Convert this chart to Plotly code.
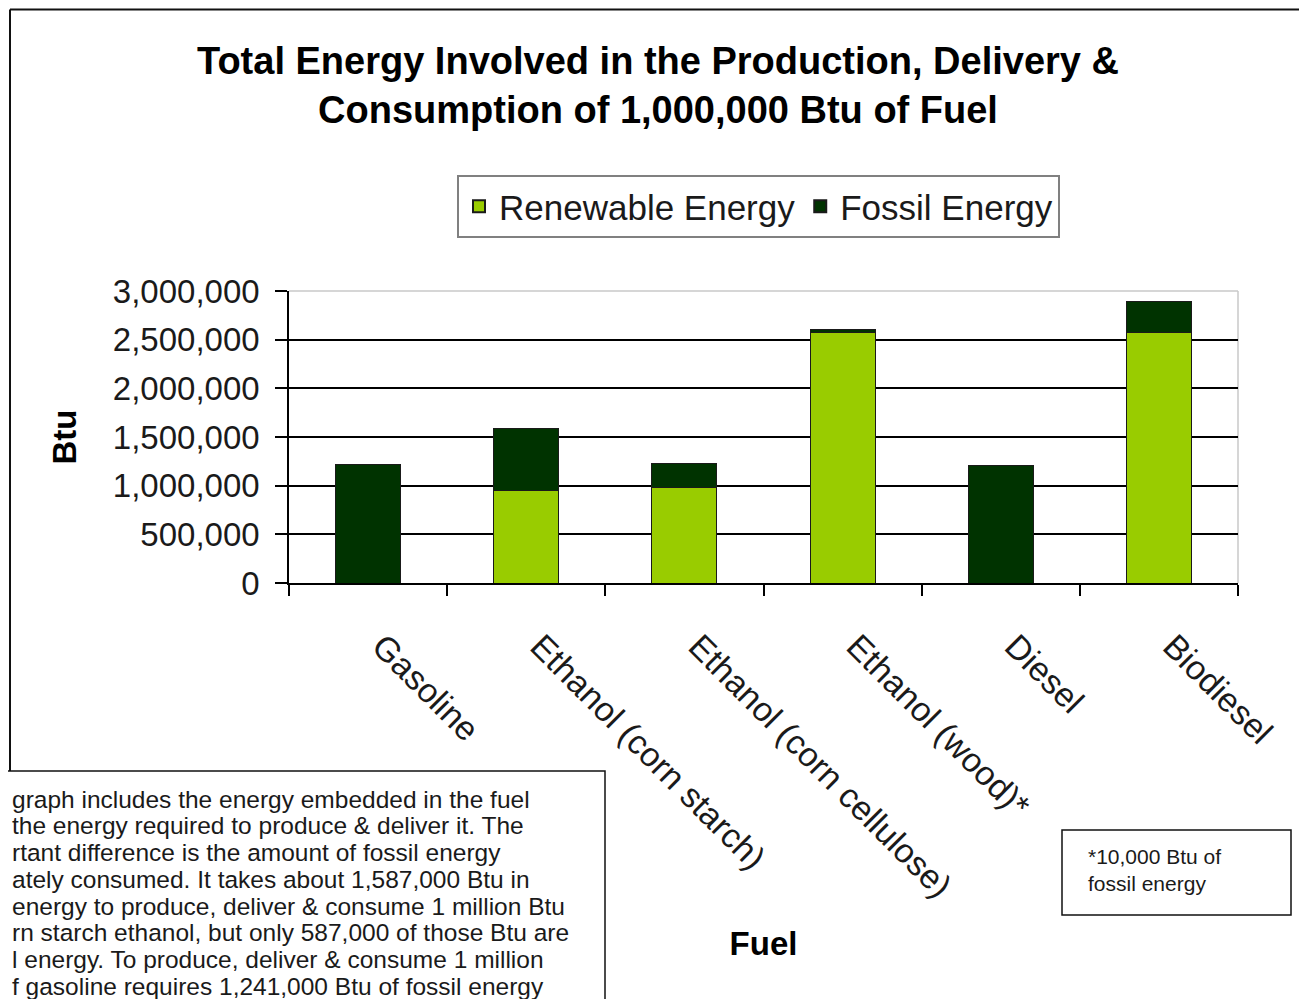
import plotly.graph_objects as go

# ---- data ----
fuels = ["Gasoline", "Ethanol (corn starch)", "Ethanol (corn cellulose)",
         "Ethanol (wood)*", "Diesel", "Biodiesel"]
renewable = [0, 955000, 985000, 2575000, 0, 2570000]
fossil = [1215000, 632000, 240000, 25000, 1207000, 325000]
y_ticks = [0, 500000, 1000000, 1500000, 2000000, 2500000, 3000000]

title_text = ("<b>Total Energy Involved in the Production, Delivery &amp;</b><br>"
              "<b>Consumption of 1,000,000 Btu of Fuel</b>")
note_lines = [
    "graph includes the energy embedded in the fuel",
    "the energy required to produce &amp; deliver it. The",
    "rtant difference is the amount of fossil energy",
    "ately consumed. It takes about 1,587,000 Btu in",
    "energy to produce, deliver &amp; consume 1 million Btu",
    "rn starch ethanol, but only 587,000 of those Btu are",
    "l energy. To produce, deliver &amp; consume 1 million",
    "f gasoline requires 1,241,000 Btu of fossil energy",
]
footnote = "*10,000 Btu of<br>fossil energy"

OFF = 8  # page body margin
W, H = 1307 - OFF, 999 - OFF
L, R, T, B = 289, 1238, 291, 583  # plot area in page pixels
FONT = "Liberation Sans, Arial, sans-serif"


def px(x):
    return (x - L) / (R - L)


def py(y):
    return (B - y) / (B - T)


fig = go.Figure()
fig.add_trace(go.Bar(x=fuels, y=renewable, name="Renewable Energy",
                     marker=dict(color="#99CC00", line=dict(color="#1a1a1a", width=1))))
fig.add_trace(go.Bar(x=fuels, y=fossil, name="Fossil Energy",
                     marker=dict(color="#003300", line=dict(color="#1a1a1a", width=1))))

shapes = [
    # outer frame
    dict(type="line", xref="paper", yref="paper", x0=px(10), x1=px(1320), y0=py(9.5), y1=py(9.5),
         line=dict(color="#111111", width=2)),
    dict(type="line", xref="paper", yref="paper", x0=px(10), x1=px(10), y0=py(9.5), y1=py(772),
         line=dict(color="#111111", width=2)),
    # plot area top/right light border
    dict(type="line", xref="paper", yref="paper", x0=0, x1=1, y0=1, y1=1,
         line=dict(color="#c8c8c8", width=1.5), layer="below"),
    dict(type="line", xref="paper", yref="paper", x0=1, x1=1, y0=0, y1=1,
         line=dict(color="#c8c8c8", width=1.5), layer="below"),
    # bottom-left note box
    dict(type="rect", xref="paper", yref="paper", x0=px(-5), x1=px(605), y0=py(771), y1=py(1010),
         line=dict(color="#111111", width=1.5), fillcolor="white"),
    # footnote box
    dict(type="rect", xref="paper", yref="paper", x0=px(1062), x1=px(1291), y0=py(830), y1=py(915),
         line=dict(color="#111111", width=1.5), fillcolor="white"),
]

annotations = []
for i, line in enumerate(note_lines):
    annotations.append(dict(text=line, xref="paper", yref="paper", x=px(10), y=py(799 + 26.8 * i),
                            xanchor="left", yanchor="middle", align="left", showarrow=False,
                            font=dict(family=FONT, size=24.5, color="#1a1a1a")))
annotations.append(dict(text=footnote, xref="paper", yref="paper", x=px(1086), y=py(843),
                        xanchor="left", yanchor="top", align="left", showarrow=False,
                        font=dict(family=FONT, size=21, color="#1a1a1a")))

fig.update_layout(
    width=W, height=H,
    margin=dict(l=L - OFF, r=W - (R - OFF), t=T - OFF, b=H - (B - OFF), autoexpand=False),
    barmode="stack", bargap=0.59,
    paper_bgcolor="white", plot_bgcolor="white",
    font=dict(family=FONT, color="#1a1a1a"),
    title=dict(text=title_text, x=(658 - OFF) / W, xref="container", xanchor="center",
               y=1 - (74 - OFF) / H, yref="container", yanchor="middle",
               font=dict(family=FONT, size=38, color="#000000")),
    legend=dict(orientation="h", x=px(457), y=py(175), xanchor="left", yanchor="top",
                bordercolor="#808080", borderwidth=2, bgcolor="white",
                font=dict(family=FONT, size=35, color="#1a1a1a"),
                traceorder="normal", itemsizing="constant"),
    shapes=shapes, annotations=annotations,
    xaxis=dict(
        tickmode="array", tickvals=fuels, ticktext=fuels,
        tickangle=45, tickson="boundaries", ticks="outside", ticklen=11,
        tickcolor="#000000", tickwidth=1.5,
        showline=True, linecolor="#000000", linewidth=1.5,
        showgrid=False, ticklabelstandoff=28, ticklabelshift=14,
        tickfont=dict(family=FONT, size=34, color="#1a1a1a"),
        title=dict(text="<b>Fuel</b>", font=dict(family=FONT, size=33, color="#000000"), standoff=28),
        automargin=False,
    ),
    yaxis=dict(
        range=[0, 3000000], tickmode="array", tickvals=y_ticks, tickformat=",d",
        ticks="outside", ticklen=12, tickcolor="#000000", tickwidth=1.5,
        showline=True, linecolor="#000000", linewidth=1.5,
        showgrid=True, gridcolor="#000000", gridwidth=1.5,
        zeroline=False, ticklabelstandoff=9,
        tickfont=dict(family=FONT, size=33, color="#1a1a1a"),
        title=dict(text="<b>Btu</b>", font=dict(family=FONT, size=33, color="#000000"), standoff=26),
        automargin=False,
    ),
)

fig.write_html("out.html")
